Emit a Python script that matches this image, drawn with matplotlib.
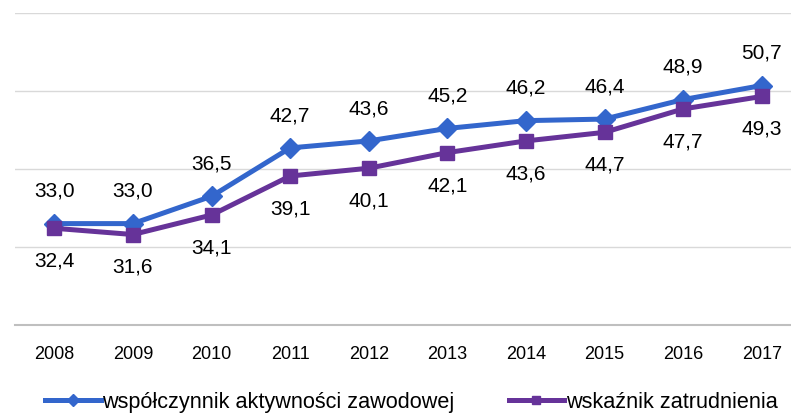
import matplotlib
matplotlib.use("Agg")
import matplotlib.pyplot as plt
from matplotlib.lines import Line2D

plt.rcParams['font.family'] = ['Liberation Sans', 'DejaVu Sans']

years = ["2008", "2009", "2010", "2011", "2012", "2013", "2014", "2015", "2016", "2017"]
aktywnosc = [33.0, 33.0, 36.5, 42.7, 43.6, 45.2, 46.2, 46.4, 48.9, 50.7]
zatrudnienie = [32.4, 31.6, 34.1, 39.1, 40.1, 42.1, 43.6, 44.7, 47.7, 49.3]
names = ["współczynnik aktywności zawodowej", "wskaźnik zatrudnienia"]
blue = "#3366cc"
purple = "#663399"

W, H = 791, 414
fig = plt.figure(figsize=(W/100, H/100), dpi=100)
left, right, top, bottom = 15, 801, 14, 326
ax = fig.add_axes([left/W, 1-bottom/H, (right-left)/W, (bottom-top)/H])
x = list(range(len(years)))
ax.plot(x, aktywnosc, color=blue, lw=3.6, marker='D', ms=10, zorder=3)
ax.plot(x, zatrudnienie, color=purple, lw=3.6, marker='s', ms=10, zorder=3)
ax.set_xlim(-0.5, len(years)-0.5)
ax.set_ylim(20, 60)
ax.set_yticks([20, 30, 40, 50, 60])
ax.yaxis.grid(True, color="#d9d9d9", lw=1)
ax.set_axisbelow(True)
for s in ['top', 'right', 'left']:
    ax.spines[s].set_visible(False)
ax.spines['bottom'].set_color("#bfbfbf")
ax.spines['bottom'].set_linewidth(1.5)
ax.tick_params(axis='y', left=False, labelleft=False)
ax.tick_params(axis='x', bottom=False, pad=11, labelsize=13)
ax.set_xticks(x)
ax.set_xticklabels(years)
for xi, v in zip(x, aktywnosc):
    ax.annotate(f"{v:.1f}".replace('.', ','), (xi, v), xytext=(0, 24), textcoords='offset points',
                ha='center', va='center', fontsize=15)
for xi, v in zip(x, zatrudnienie):
    ax.annotate(f"{v:.1f}".replace('.', ','), (xi, v), xytext=(0, -23), textcoords='offset points',
                ha='center', va='center', fontsize=15)

handles = [Line2D([], [], color=blue, lw=3.6, marker='D', ms=6),
           Line2D([], [], color=purple, lw=3.6, marker='s', ms=6)]
fig.legend(handles, names, loc='center', bbox_to_anchor=(0.52, 1-403/H), ncol=2, frameon=False,
           fontsize=15.6, handlelength=2.55, handletextpad=0.08, columnspacing=2.5,
           borderaxespad=0, borderpad=0)
fig.savefig("out.png", dpi=100)
